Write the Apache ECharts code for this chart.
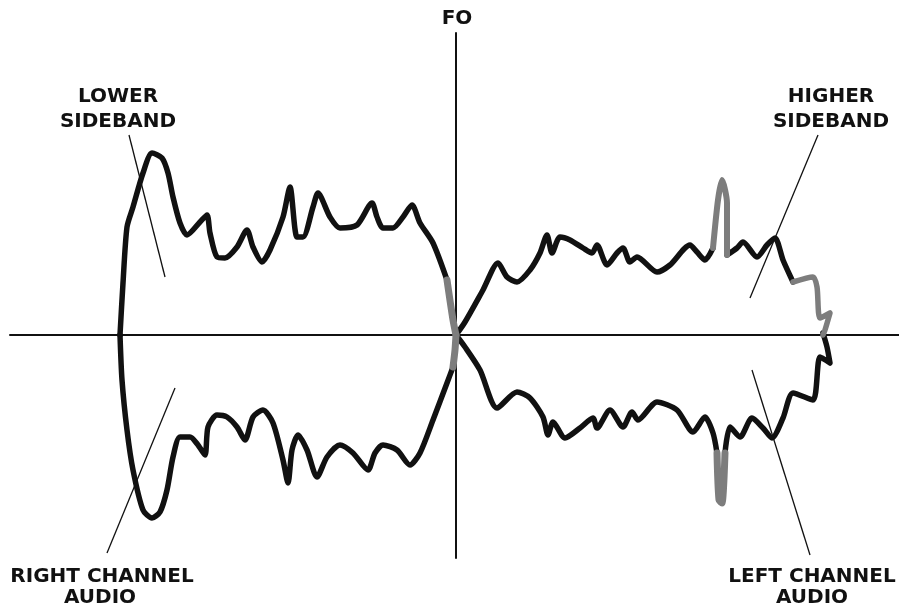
<!DOCTYPE html>
<html>
<head>
<meta charset="utf-8">
<script src="https://cdn.jsdelivr.net/npm/echarts@6/dist/echarts.min.js"></script>
<style>
    html, body { margin: 0; padding: 0; background: #fff; }
    #chart { width: 899px; height: 607px; }
</style>
</head>
<body>
<div id="chart"></div>
<script>
// x: offset from FO, y: amplitude (up +, down -)
const upperLeft = [[-336, 0], [-333, 52], [-329, 108], [-323, 128], [-313, 162], [-304, 182], [-294, 177], [-288, 162], [-283, 138], [-276, 112], [-269, 100], [-256, 113], [-249, 120], [-246, 102], [-239, 78], [-231, 77], [-219, 88], [-209, 105], [-203, 88], [-194, 73], [-186, 85], [-173, 118], [-166, 148], [-159, 98], [-153, 98], [-143, 128], [-138, 142], [-126, 118], [-116, 107], [-99, 110], [-84, 132], [-79, 118], [-73, 107], [-63, 107], [-53, 118], [-44, 130], [-36, 112], [-23, 92], [-9, 55]]
const upperLeftGray = [[-9, 55], [-3, 15], [0, 0]]

const lowerLeft = [[-336, 0], [-334, -45], [-329, -95], [-323, -135], [-313, -175], [-304, -183], [-296, -177], [-289, -155], [-283, -122], [-276, -102], [-266, -102], [-258, -110], [-251, -120], [-248, -92], [-239, -80], [-229, -82], [-219, -92], [-211, -105], [-203, -82], [-193, -75], [-183, -88], [-173, -125], [-168, -148], [-164, -115], [-158, -100], [-149, -115], [-139, -142], [-129, -122], [-116, -110], [-103, -118], [-88, -135], [-81, -118], [-73, -110], [-59, -115], [-46, -130], [-36, -118], [-23, -85], [-9, -48], [-3, -32]]
const lowerLeftGray = [[-3, -32], [-1, -15], [0, 0]]

const upperRight = [[0, 0], [9, 13], [27, 45], [42, 72], [51, 58], [61, 53], [74, 65], [84, 82], [91, 100], [96, 82], [104, 98], [114, 95], [127, 87], [136, 82], [141, 90], [151, 70], [161, 82], [167, 87], [174, 73], [181, 78], [201, 63], [214, 70], [234, 90], [241, 83], [249, 75], [257, 87]]
const upperSpike = [[257, 87], [262, 135], [266, 155], [271, 132], [271, 80]]
const upperRight2 = [[271, 80], [281, 87], [287, 93], [301, 78], [311, 90], [319, 97], [327, 75], [337, 53]]
const upperTail = [[337, 53], [357, 58], [361, 48], [364, 17], [374, 22], [369, 5], [367, 0]]

const lowerRight = [[0, 0], [9, -12], [24, -35], [41, -73], [61, -57], [74, -63], [87, -82], [92, -100], [97, -87], [109, -103], [124, -93], [137, -83], [141, -93], [154, -75], [167, -92], [176, -77], [182, -85], [201, -67], [221, -75], [237, -97], [249, -82], [257, -98], [261, -118]]
const lowerSpike = [[261, -118], [263, -165], [266, -168], [269, -118]]
const lowerRight2 = [[269, -118], [274, -92], [284, -102], [296, -83], [307, -93], [316, -103], [327, -83], [337, -58], [357, -65], [364, -22], [374, -28], [371, -12], [367, 2]]

// leader lines for the labels
const leaders = [
    [[-327, 200], [-291, 58]],
    [[362, 200], [294, 37]],
    [[-281, -53], [-349, -218]],
    [[296, -35], [354, -220]],
]

const labels = ['FO', 'LOWER', 'SIDEBAND', 'HIGHER', 'SIDEBAND', 'RIGHT CHANNEL', 'AUDIO', 'LEFT CHANNEL', 'AUDIO']

const black = '#111111'
const gray = '#7d7d7d'

function trace(data, color, width) {
    return {
        type: 'line',
        data: data,
        smooth: 0.25,
        symbol: 'none',
        animation: false,
        silent: true,
        lineStyle: {
            color: color,
            width: width || 5.5,
            cap: 'round',
            join: 'round',
        },
    }
}

const series = [
    trace(upperLeft, black),
    trace(lowerLeft, black),
    trace(upperRight, black),
    trace(upperRight2, black),
    trace(lowerRight, black),
    trace(lowerRight2, black),
    trace(upperLeftGray, gray, 7),
    trace(lowerLeftGray, gray, 7),
    trace(upperSpike, gray, 6),
    trace(upperTail, gray),
    trace(lowerSpike, gray, 7),
]
leaders.forEach(item => {
    series.push({
        type: 'line',
        data: item,
        symbol: 'none',
        animation: false,
        silent: true,
        clip: false,
        lineStyle: { color: black, width: 1.3 },
    })
})

// label positions (pixels)
const labelPos = [[457, 19], [118, 97], [118, 122], [831, 97], [831, 122], [102, 577], [100, 598], [812, 577], [812, 598]]
const graphic = labels.map((t, i) => {
    return {
        type: 'text',
        x: labelPos[i][0],
        y: labelPos[i][1],
        silent: true,
        style: {
            text: t,
            fill: black,
            font: 'bold 20px "DejaVu Sans"',
            textAlign: 'center',
            textVerticalAlign: 'middle',
        },
    }
})

const hiddenAxis = {
    type: 'value',
    axisLabel: { show: false },
    axisTick: { show: false },
    splitLine: { show: false },
    axisLine: {
        show: true,
        onZero: true,
        lineStyle: { color: black, width: 2 },
    },
}

const chart = echarts.init(document.getElementById('chart'))
chart.setOption({
    animation: false,
    backgroundColor: '#ffffff',
    grid: { left: 10, right: 0, top: 33, bottom: 49 },
    xAxis: Object.assign({}, hiddenAxis, { min: -446, max: 443 }),
    yAxis: Object.assign({}, hiddenAxis, { min: -223, max: 302 }),
    series: series,
    graphic: graphic,
})
</script>
</body>
</html>
